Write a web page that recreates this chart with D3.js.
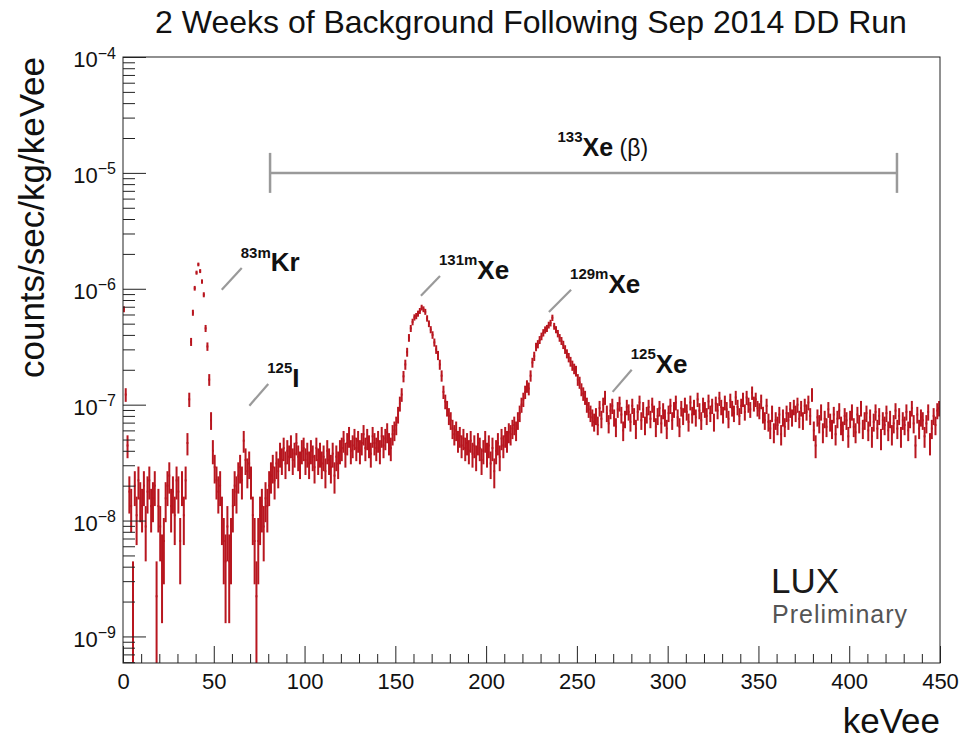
<!DOCTYPE html>
<html>
<head>
<meta charset="utf-8">
<script src="https://cdn.jsdelivr.net/npm/d3@7"></script>
<style>
  body { margin: 0; background: #fff; }
  svg { display: block; }
  text { font-family: "Liberation Sans", Arial, Helvetica, sans-serif; }
</style>
</head>
<body>
<svg id="chart" width="961" height="742"></svg>
<script>
// Energy histogram: 1 keV bins starting at 0 keVee, raw counts per bin
const binWidth = 1;
const counts = [
  300, 55, 20, 8, 6, 1, 9, 5, 10, 7,
  6, 9, 4, 8, 10, 6, 7, 9, 1, 6,
  4, 2, 3, 7, 9, 11, 6, 8, 5, 10,
  8, 3, 9, 5, 10, 21, 50, 157, 280, 455,
  620, 730, 640, 520, 400, 205, 143, 74, 33, 18,
  13, 10, 8, 9, 5, 3, 2, 4, 2, 3,
  6, 9, 8, 11, 13, 10, 22, 15, 12, 14,
  10, 5, 3, 1, 3, 5, 6, 4, 7, 6,
  9, 11, 13, 10, 14, 12, 17, 15, 19, 14,
  18, 16, 20, 15, 17, 21, 16, 14, 18, 19,
  15, 17, 14, 18, 16, 13, 19, 15, 17, 14,
  16, 12, 18, 15, 13, 17, 11, 16, 14, 18,
  19, 22, 17, 21, 24, 18, 20, 23, 19, 22,
  18, 21, 25, 19, 23, 20, 17, 24, 21, 19,
  22, 18, 24, 20, 23, 26, 21, 19, 25, 27,
  30, 37, 46, 55, 79, 100, 128, 170, 205, 233,
  255, 262, 275, 290, 310, 300, 285, 250, 225, 200,
  180, 155, 135, 120, 100, 80, 58, 48, 42, 36,
  33, 28, 25, 27, 22, 24, 20, 23, 19, 21,
  18, 22, 17, 20, 16, 21, 19, 15, 18, 22,
  17, 20, 14, 19, 12, 18, 21, 16, 23, 20,
  24, 22, 26, 25, 28, 30, 27, 33, 38, 45,
  50, 58, 65, 62, 80, 104, 118, 142, 150, 163,
  175, 188, 199, 205, 219, 228, 253, 214, 200, 185,
  170, 160, 148, 135, 124, 115, 106, 98, 92, 88,
  74, 70, 61, 56, 52, 45, 41, 38, 35, 32,
  36, 30, 42, 34, 45, 52, 38, 31, 40, 44,
  35, 29, 41, 46, 37, 27, 34, 43, 39, 32,
  44, 36, 28, 39, 47, 33, 41, 30, 37, 43,
  34, 45, 38, 29, 36, 42, 31, 40, 35, 28,
  38, 44, 33, 41, 47, 35, 29, 42, 36, 45,
  39, 32, 47, 37, 43, 35, 50, 40, 33, 45,
  41, 36, 48, 38, 44, 32, 46, 40, 51, 43,
  37, 47, 41, 34, 49, 42, 38, 52, 43, 36,
  44, 50, 39, 52, 45, 41, 57, 46, 50, 42,
  40, 48, 37, 33, 44, 32, 28, 38, 26, 33,
  30, 37, 25, 35, 29, 38, 33, 41, 35, 43,
  38, 45, 34, 42, 33, 44, 39, 47, 36, 55,
  27, 20, 35, 31, 39, 26, 34, 29, 41, 32,
  28, 37, 25, 34, 40, 30, 27, 36, 33, 24,
  34, 39, 29, 26, 37, 31, 42, 28, 33, 38,
  27, 35, 24, 32, 39, 28, 36, 23, 33, 30,
  38, 27, 34, 25, 31, 40, 28, 36, 24, 33,
  30, 39, 27, 34, 42, 31, 20, 37, 28, 35,
  33, 24, 31, 39, 21, 28, 36, 30, 40, 42
];
// kg * sec * keV represented by one count
const exposure = 4.5e8;

const xDomain = [0, 450];
const yDomain = [5.9e-10, 1e-4];
const xMajorTicks = [0, 50, 100, 150, 200, 250, 300, 350, 400, 450];
const yDecades = [-4, -5, -6, -7, -8, -9];

// Isotope labels: leader line from -> to in (keVee, rate)
const peakLabels = [
  { mass: "83m",  el: "Kr", from: [54.4, 9.8e-7],  to: [65.4, 1.51e-6] },
  { mass: "125",  el: "I",  from: [69.6, 9.8e-8],  to: [80.0, 1.51e-7] },
  { mass: "131m", el: "Xe", from: [164.1, 8.7e-7], to: [174.6, 1.29e-6] },
  { mass: "129m", el: "Xe", from: [234.6, 6.3e-7], to: [246.8, 9.8e-7] },
  { mass: "125",  el: "Xe", from: [269.7, 1.29e-7], to: [280.2, 2.0e-7] }
];
// 133Xe beta continuum span
const betaSpan = { mass: "133", el: "Xe", note: " (β)", range: [81, 426.3], level: 1e-5 };

const plot = { left: 123, right: 940, top: 57, bottom: 663 };
const svg = d3.select("#chart");

const x = d3.scaleLinear().domain(xDomain).range([plot.left, plot.right]);
const y = d3.scaleLog().domain(yDomain).range([plot.bottom, plot.top]);

const red = "#b8161f";
const gray = "#9a9a9a";

// Title
svg.append("text")
  .attr("x", 531).attr("y", 33)
  .attr("text-anchor", "middle")
  .attr("font-size", 32)
  .attr("fill", "#111")
  .text("2 Weeks of Background Following Sep 2014 DD Run");

// Clip for data
svg.append("clipPath").attr("id", "plotClip")
  .append("rect")
  .attr("x", plot.left).attr("y", plot.top)
  .attr("width", plot.right - plot.left).attr("height", plot.bottom - plot.top);

// Histogram bins with Poisson error bars
const bins = counts.map((c, i) => ({
  lo: i * binWidth, hi: (i + 1) * binWidth, c,
  v: c / exposure, e: Math.sqrt(c) / exposure
})).filter(d => d.c > 0);

const gData = svg.append("g").attr("clip-path", "url(#plotClip)")
  .attr("stroke", red).attr("stroke-width", 2).attr("fill", "none");

gData.selectAll("line.err").data(bins).join("line")
  .attr("class", "err")
  .attr("x1", d => x((d.lo + d.hi) / 2)).attr("x2", d => x((d.lo + d.hi) / 2))
  .attr("y1", d => y(Math.max(d.v - d.e, yDomain[0] * 0.5)))
  .attr("y2", d => y(d.v + d.e));

gData.selectAll("line.val").data(bins).join("line")
  .attr("class", "val")
  .attr("x1", d => x(d.lo)).attr("x2", d => x(d.hi))
  .attr("y1", d => y(d.v)).attr("y2", d => y(d.v));

// Axes (ticks pointing into the frame)
const yMinor = [];
for (let k = -10; k <= -5; k++) {
  for (let m = 2; m <= 9; m++) {
    const v = m * Math.pow(10, k);
    if (v >= yDomain[0] && v <= yDomain[1]) yMinor.push(v);
  }
}
const xMinor = d3.range(0, 451, 10).filter(v => v % 50 !== 0);

const axisStyle = g => {
  g.select(".domain").remove();
  g.selectAll(".tick line").attr("stroke", "#222").attr("stroke-width", 1);
};

svg.append("g").attr("transform", `translate(${plot.left},0)`)
  .call(d3.axisLeft(y).tickValues(yMinor).tickSize(-12).tickFormat(""))
  .call(axisStyle);

const yAx = svg.append("g").attr("transform", `translate(${plot.left},0)`)
  .call(d3.axisLeft(y).tickValues(yDecades.map(k => Math.pow(10, k))).tickSize(-23).tickPadding(7).tickFormat(""))
  .call(axisStyle);
yAx.selectAll(".tick").each(function (d) {
  const t = d3.select(this).select("text");
  const k = Math.round(Math.log10(d));
  t.attr("font-family", null).attr("font-size", 22).attr("fill", "#111").attr("dy", "0.45em");
  t.text(null);
  t.append("tspan").text("10");
  t.append("tspan").attr("dy", "-0.55em").attr("font-size", 16).text("\u2212" + Math.abs(k));
});

svg.append("g").attr("transform", `translate(0,${plot.bottom})`)
  .call(d3.axisBottom(x).tickValues(xMinor).tickSize(-9).tickFormat(""))
  .call(axisStyle);

svg.append("g").attr("transform", `translate(0,${plot.bottom})`)
  .call(d3.axisBottom(x).tickValues(xMajorTicks).tickSize(-17).tickPadding(10).tickFormat(d3.format("d")))
  .call(axisStyle)
  .call(g => g.selectAll("text").attr("font-family", null).attr("font-size", 22).attr("fill", "#111"));

// Frame
svg.append("rect")
  .attr("x", plot.left).attr("y", plot.top)
  .attr("width", plot.right - plot.left).attr("height", plot.bottom - plot.top)
  .attr("fill", "none").attr("stroke", "#222").attr("stroke-width", 1);

// Axis titles
svg.append("text")
  .attr("transform", "translate(44,57) rotate(-90)")
  .attr("text-anchor", "end")
  .attr("font-size", 35)
  .attr("fill", "#111")
  .text("counts/sec/kg/keVee");

svg.append("text")
  .attr("x", plot.right).attr("y", 733)
  .attr("text-anchor", "end")
  .attr("font-size", 35)
  .attr("fill", "#111")
  .text("keVee");

// Isotope annotations
const gAnn = svg.append("g");
peakLabels.forEach(p => {
  gAnn.append("line")
    .attr("x1", x(p.from[0])).attr("y1", y(p.from[1]))
    .attr("x2", x(p.to[0])).attr("y2", y(p.to[1]))
    .attr("stroke", gray).attr("stroke-width", 2.2);
  const t = gAnn.append("text")
    .attr("x", x(p.to[0]) - 1).attr("y", y(p.to[1]) + 3)
    .attr("font-weight", "bold").attr("fill", "#111");
  t.append("tspan").attr("font-size", 15).attr("dy", "-0.9em").text(p.mass);
  t.append("tspan").attr("font-size", 26).attr("dy", "0.52em").text(p.el);
});

const gBeta = svg.append("g").attr("stroke", gray).attr("stroke-width", 2.5);
gBeta.append("line")
  .attr("x1", x(betaSpan.range[0])).attr("x2", x(betaSpan.range[1]))
  .attr("y1", y(betaSpan.level)).attr("y2", y(betaSpan.level));
betaSpan.range.forEach(r => {
  gBeta.append("line")
    .attr("x1", x(r)).attr("x2", x(r))
    .attr("y1", y(betaSpan.level) - 20).attr("y2", y(betaSpan.level) + 20);
});
const bt = svg.append("text")
  .attr("x", x((betaSpan.range[0] + betaSpan.range[1]) / 2) - 26)
  .attr("y", y(betaSpan.level) - 17)
  .attr("font-weight", "bold").attr("fill", "#111");
bt.append("tspan").attr("font-size", 15).attr("dy", "-0.9em").text(betaSpan.mass);
bt.append("tspan").attr("font-size", 25).attr("dy", "0.54em").text(betaSpan.el);
bt.append("tspan").attr("font-size", 23).attr("font-weight", "normal").text(betaSpan.note);

// Collaboration tag
svg.append("text")
  .attr("x", 771).attr("y", 593)
  .attr("font-size", 35).attr("fill", "#1a1a1a")
  .text("LUX");
svg.append("text")
  .attr("x", 772).attr("y", 623)
  .attr("font-size", 25).attr("letter-spacing", 1).attr("fill", "#555")
  .text("Preliminary");
</script>
</body>
</html>
